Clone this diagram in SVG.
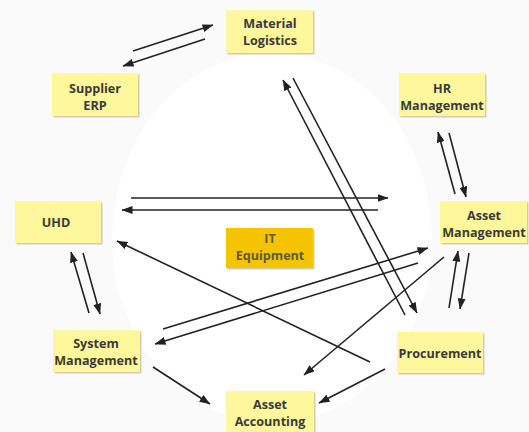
<svg xmlns="http://www.w3.org/2000/svg" width="529" height="432" viewBox="0 0 529 432">
<defs>
<style>
.box{fill:#FFF79C;}
.shadow{fill:#cfcdb0;}
.it{fill:#F5C300;}
.t{font-family:"Open Sans","Liberation Sans",Arial,sans-serif;font-weight:bold;font-size:12.6px;fill:#3a3a3a;text-anchor:middle;}
.ti{fill:#5e5a40;}
.c line{stroke:#222;stroke-width:1.6;marker-end:url(#ah);}
</style>
<marker id="ah" markerUnits="userSpaceOnUse" markerWidth="11" markerHeight="8" refX="10.5" refY="4" orient="auto">
<path d="M0,0 L11,4 L0,8 z" fill="#222"/>
</marker>
</defs>
<rect width="529" height="432" fill="#fafafa"/>
<ellipse cx="272" cy="238" rx="160" ry="185" fill="#ffffff"/>

<g id="material-logistics">
<rect class="shadow" x="227.5" y="11.5" width="87" height="43"/>
<rect class="box" x="226" y="10" width="87" height="43"/>
<text class="t" x="270" y="27.5">Material</text>
<text class="t" x="270" y="44.5">Logistics</text>
</g>
<g id="supplier-erp">
<rect class="shadow" x="53.5" y="74.5" width="86" height="43"/>
<rect class="box" x="52" y="73" width="86" height="43"/>
<text class="t" x="95" y="92.5">Supplier</text>
<text class="t" x="95" y="109.5">ERP</text>
</g>
<g id="hr-management">
<rect class="shadow" x="400.5" y="74.5" width="86" height="43"/>
<rect class="box" x="399" y="73" width="86" height="43"/>
<text class="t" x="442" y="92.5">HR</text>
<text class="t" x="442" y="109.5">Management</text>
</g>
<g id="uhd">
<rect class="shadow" x="16.5" y="202.5" width="86" height="42"/>
<rect class="box" x="15" y="201" width="86" height="42"/>
<text class="t" x="56" y="226.5">UHD</text>
</g>
<g id="asset-management">
<rect class="shadow" x="441.5" y="202.5" width="87" height="42"/>
<rect class="box" x="440" y="201" width="87" height="42"/>
<text class="t" x="484" y="219.5">Asset</text>
<text class="t" x="484" y="236.5">Management</text>
</g>
<g id="it-equipment">
<rect class="shadow" x="227.5" y="229.5" width="87" height="40"/>
<rect class="it" x="226" y="228" width="87" height="40"/>
<text class="t ti" x="270" y="243">IT</text>
<text class="t ti" x="270" y="260">Equipment</text>
</g>
<g id="system-management">
<rect class="shadow" x="54.5" y="331.5" width="87" height="42"/>
<rect class="box" x="53" y="330" width="87" height="42"/>
<text class="t" x="96" y="347.5">System</text>
<text class="t" x="96" y="364.5">Management</text>
</g>
<g id="procurement">
<rect class="shadow" x="398.5" y="333.5" width="86" height="41"/>
<rect class="box" x="397" y="332" width="86" height="41"/>
<text class="t" x="440" y="358">Procurement</text>
</g>
<g id="asset-accounting">
<rect class="shadow" x="227.5" y="392.5" width="88" height="45"/>
<rect class="box" x="226" y="391" width="88" height="45"/>
<text class="t" x="270" y="408.5">Asset</text>
<text class="t" x="270" y="425.5">Accounting</text>
</g>

<g id="connectors" class="c">
<line x1="133" y1="51" x2="213" y2="25"/>
<line x1="205" y1="39" x2="123" y2="66"/>
<line x1="405" y1="315" x2="283" y2="80"/>
<line x1="293" y1="78" x2="417" y2="313"/>
<line x1="455" y1="194" x2="438" y2="132"/>
<line x1="449" y1="133" x2="466" y2="197"/>
<line x1="131" y1="198" x2="388" y2="198"/>
<line x1="378" y1="210" x2="122" y2="210"/>
<line x1="89" y1="313" x2="71" y2="252"/>
<line x1="83" y1="253" x2="100" y2="314"/>
<line x1="370" y1="362" x2="117" y2="241"/>
<line x1="163" y1="329" x2="428" y2="248"/>
<line x1="418" y1="263" x2="155" y2="344"/>
<line x1="444" y1="257" x2="304" y2="375"/>
<line x1="449" y1="308" x2="458" y2="251"/>
<line x1="469" y1="253" x2="460" y2="309"/>
<line x1="153" y1="367" x2="210" y2="404"/>
<line x1="385" y1="369" x2="319" y2="403"/>
</g>
</svg>
